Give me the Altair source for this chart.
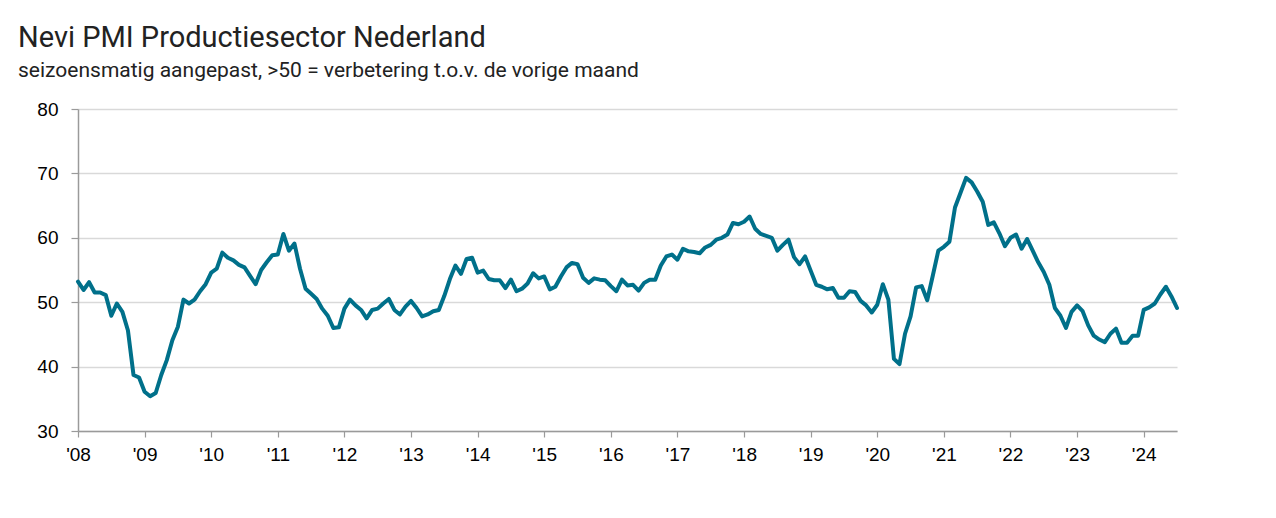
import altair as alt
import pandas as pd

start_year = 2008
pmi = [
    53.2, 51.9, 53.1, 51.5, 51.5, 51.1, 47.9, 49.8, 48.5, 45.6, 38.7, 38.3,
    36.1, 35.4, 35.9, 38.7, 41.0, 44.1, 46.2, 50.4, 49.8, 50.4, 51.7, 52.8,
    54.6, 55.2, 57.7, 56.9, 56.5, 55.8, 55.4, 54.1, 52.8, 55.0, 56.2, 57.3,
    57.4, 60.6, 58.0, 59.1, 55.2, 52.1, 51.3, 50.5, 49.0, 47.9, 46.0, 46.1,
    49.0, 50.4, 49.5, 48.8, 47.5, 48.8, 49.0, 49.8, 50.5, 48.8, 48.1, 49.3,
    50.2, 49.1, 47.8, 48.1, 48.6, 48.8, 51.0, 53.6, 55.7, 54.4, 56.7, 56.9,
    54.6, 54.9, 53.6, 53.4, 53.4, 52.2, 53.5, 51.7, 52.1, 52.9, 54.5, 53.7,
    54.0, 52.0, 52.4, 54.0, 55.4, 56.1, 55.9, 53.8, 53.0, 53.7, 53.5, 53.4,
    52.5, 51.7, 53.5, 52.6, 52.7, 51.8, 53.0, 53.5, 53.5, 55.7, 57.1, 57.4,
    56.6, 58.3, 57.9, 57.8, 57.6, 58.5, 58.9, 59.7, 60.0, 60.5, 62.3, 62.1,
    62.5, 63.3, 61.4, 60.6, 60.3, 60.0, 58.0, 58.9, 59.7, 57.0, 55.9, 57.1,
    54.9, 52.7, 52.4, 52.0, 52.2, 50.7, 50.7, 51.7, 51.6, 50.2, 49.5, 48.4,
    49.6, 52.8, 50.4, 41.2, 40.4, 45.1, 47.8, 52.3, 52.5, 50.3, 54.1, 58.0,
    58.6, 59.4, 64.7, 67.0, 69.3, 68.6, 67.2, 65.6, 62.0, 62.4, 60.7, 58.7,
    60.0, 60.5, 58.3, 59.8, 58.0, 56.2, 54.7, 52.7, 49.1, 47.9, 46.0, 48.5,
    49.5, 48.6, 46.4, 44.8, 44.2, 43.8, 45.1, 45.9, 43.7, 43.7, 44.8, 44.8,
    48.8, 49.2, 49.8, 51.2, 52.4, 50.9, 49.1,
]
year_ticks = list(range(2008, 2025))
y_ticks = [30, 40, 50, 60, 70, 80]

df = pd.DataFrame({
    "t": [start_year + i / 12 for i in range(len(pmi))],
    "pmi": pmi,
})

chart = (
    alt.Chart(df)
    .mark_line(color="#00708A", strokeWidth=4, strokeJoin="round", strokeCap="round")
    .encode(
        x=alt.X(
            "t:Q",
            scale=alt.Scale(domain=[2008, 2024.5], nice=False, zero=False),
            axis=alt.Axis(
                values=year_ticks,
                labelExpr="\"'\" + substring(toString(datum.value), 2, 4)",
                title=None,
                grid=False,
                domainColor="#9a9a9a",
                domainWidth=1.5,
                tickColor="#9a9a9a",
                tickWidth=1.2,
                tickSize=6,
                labelPadding=8,
                labelFont="Liberation Sans",
                labelFontSize=19,
                labelColor="#000000",
                labelFlush=False,
            ),
        ),
        y=alt.Y(
            "pmi:Q",
            scale=alt.Scale(domain=[30, 80], nice=False, zero=False),
            axis=alt.Axis(
                values=y_ticks,
                title=None,
                grid=True,
                gridColor="#d9d9d9",
                gridWidth=1.5,
                domainColor="#9a9a9a",
                domainWidth=1.5,
                tickColor="#9a9a9a",
                tickWidth=1.2,
                tickSize=7,
                labelPadding=13,
                labelFont="Liberation Sans",
                labelFontSize=19,
                labelColor="#000000",
            ),
        ),
    )
    .properties(
        width=1099,
        height=322,
        padding={"left": 70, "top": 101, "right": 91, "bottom": 79},
        autosize=alt.AutoSizeParams(type="none"),
        title=alt.TitleParams(
            text="Nevi PMI Productiesector Nederland",
            subtitle="seizoensmatig aangepast, >50 = verbetering t.o.v. de vorige maand",
            anchor="start",
            frame="group",
            dx=-60,
            offset=19,
            font="Roboto",
            fontSize=29,
            fontWeight="normal",
            color="#222222",
            subtitleFont="Roboto",
            subtitleFontSize=21,
            subtitleColor="#222222",
            subtitlePadding=7,
        ),
    )
    .configure_view(stroke=None)
)

chart.save("out.html", embed_options={"renderer": "svg", "actions": False})
